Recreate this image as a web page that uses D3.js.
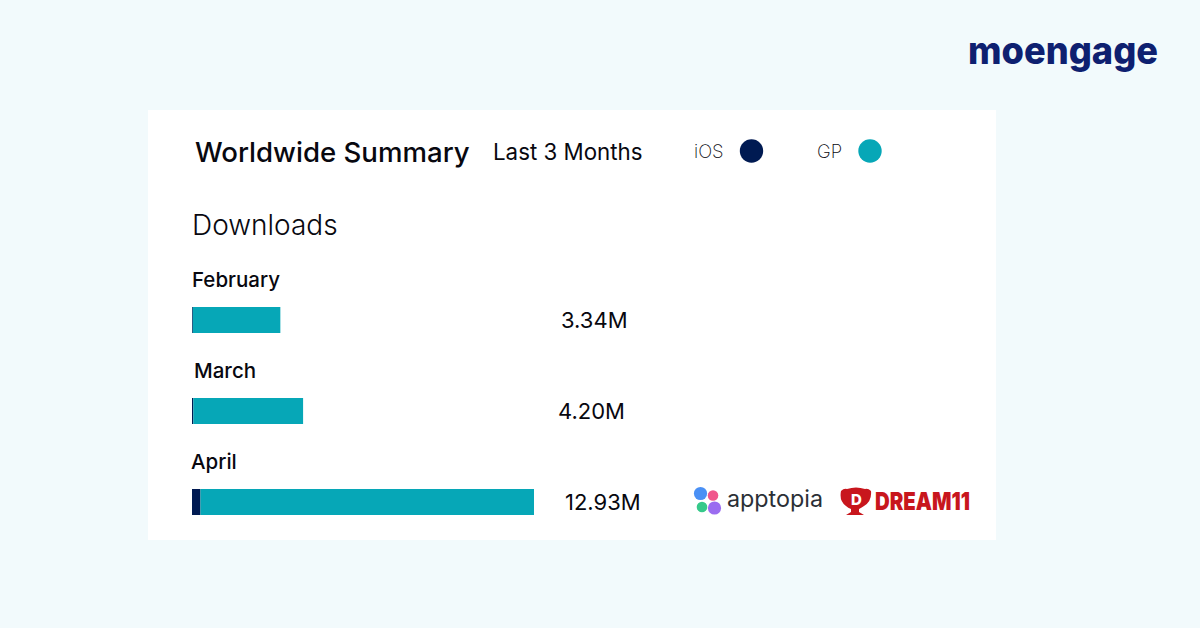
<!DOCTYPE html>
<html>
<head>
<meta charset="utf-8">
<script src="https://cdn.jsdelivr.net/npm/d3@7"></script>
<style>
  html, body { margin: 0; padding: 0; background: #f2fafc; }
  svg { display: block; }
  text { font-family: Inter, "Noto Sans", sans-serif; fill: #08080f; }
</style>
</head>
<body>
<svg id="chart" width="1200" height="628"></svg>
<script>
// Values, in millions of downloads.
const months = ["February", "March", "April"];
const iosValues = [0.03, 0.05, 0.32];
const gpValues = [3.31, 4.15, 12.61];
const totalLabels = ["3.34M", "4.20M", "12.93M"];
const seriesNames = ["iOS", "GP"];
const seriesColors = ["#001a52", "#06a7b7"];

// The labels in the original are hand placed, so they don't line up exactly.
const monthNudge = [0, 2, -1];
const totalX = [561, 558, 565];

const svg = d3.select("#chart");

const x = d3.scaleLinear().domain([0, 12.93]).range([192, 534]);
const y = d3.scaleBand().domain(months).range([307, 515]).paddingInner(65 / 91);
const color = d3.scaleOrdinal().domain(seriesNames).range(seriesColors);

// White card behind everything.
svg.append("rect")
    .attr("x", 148).attr("y", 110)
    .attr("width", 848).attr("height", 430)
    .attr("fill", "#fff");

// Titles.
svg.append("text").attr("x", 195).attr("y", 162)
    .attr("font-size", 27.6).attr("font-weight", 500)
    .text("Worldwide Summary");
svg.append("text").attr("x", 493).attr("y", 160)
    .attr("font-size", 22.3)
    .text("Last 3 Months");
svg.append("text").attr("x", 192).attr("y", 235)
    .attr("font-size", 28).attr("font-weight", 300)
    .text("Downloads");

// Legend.
const legend = svg.selectAll("g.legend")
    .data(seriesNames)
    .enter()
    .append("g")
    .attr("class", "legend")
    .attr("transform", (d, i) => `translate(${i == 0 ? 694 : 817},0)`);

legend.append("text")
    .attr("y", 158)
    .attr("font-size", 18.5).attr("font-weight", 200)
    .text((d) => d);

legend.append("circle")
    .attr("cx", (d, i) => i == 0 ? 57.5 : 53)
    .attr("cy", 151)
    .attr("r", 11.7)
    .attr("fill", (d) => color(d));

// Bars: iOS first, GP stacked on the end of it.
const rows = svg.selectAll("g.row")
    .data(months)
    .enter()
    .append("g")
    .attr("class", "row");

rows.append("rect")
    .attr("x", x(0))
    .attr("y", (d) => y(d))
    .attr("width", (d, i) => x(iosValues[i]) - x(0))
    .attr("height", y.bandwidth())
    .attr("fill", color("iOS"));

rows.append("rect")
    .attr("x", (d, i) => x(iosValues[i]))
    .attr("y", (d) => y(d))
    .attr("width", (d, i) => x(iosValues[i] + gpValues[i]) - x(iosValues[i]))
    .attr("height", y.bandwidth())
    .attr("fill", color("GP"));

rows.append("text")
    .attr("x", (d, i) => x(0) + monthNudge[i])
    .attr("y", (d) => y(d) - 20)
    .attr("font-size", 20.5).attr("font-weight", 500)
    .text((d) => d);

rows.append("text")
    .attr("x", (d, i) => totalX[i])
    .attr("y", (d) => y(d) + 21)
    .attr("font-size", 22)
    .text((d, i) => totalLabels[i]);

// Apptopia mark.
const petals = [
    { cx: 700.5, cy: 493.5, r: 6.6, fill: "#4a90f5" },
    { cx: 713, cy: 495.5, r: 5.3, fill: "#f0568c" },
    { cx: 702, cy: 507, r: 5.3, fill: "#36c98a" },
    { cx: 714.5, cy: 508, r: 6.6, fill: "#9b6cf0" }
];
svg.selectAll("circle.petal")
    .data(petals)
    .enter()
    .append("circle")
    .attr("class", "petal")
    .attr("cx", (d) => d.cx).attr("cy", (d) => d.cy)
    .attr("r", (d) => d.r)
    .attr("fill", (d) => d.fill);

svg.append("text").attr("x", 727).attr("y", 507)
    .attr("font-size", 23.3).attr("font-weight", 400)
    .style("fill", "#2b2f36")
    .text("apptopia");

// Dream11 mark: a small trophy and the word next to it.
const red = "#c8161d";
svg.append("path")
    .attr("d", "M841 491 q3 -3 6 -2 q9 -3 18 0 q3 -1 6 2 q1 10 -7 15 q-3 2 -5 3 l0 3 l5 3 l-18 0 l5 -3 l0 -3 q-3 -1 -5 -3 q-7 -5 -5 -15z")
    .attr("fill", red);
svg.append("text").attr("x", 851).attr("y", 505)
    .attr("font-size", 15).attr("font-weight", 800)
    .style("fill", "#fff")
    .text("D");
svg.append("text").attr("x", 875).attr("y", 510)
    .attr("font-size", 25).attr("font-weight", 900)
    .attr("font-family", "Roboto, sans-serif")
    .style("fill", red)
    .attr("textLength", 95).attr("lengthAdjust", "spacingAndGlyphs")
    .text("DREAM11");

// MoEngage wordmark.
svg.append("text").attr("x", 968).attr("y", 64)
    .attr("font-size", 38).attr("font-weight", 800)
    .style("fill", "#0e2070")
    .attr("textLength", 190).attr("lengthAdjust", "spacingAndGlyphs")
    .text("moengage");
</script>
</body>
</html>
